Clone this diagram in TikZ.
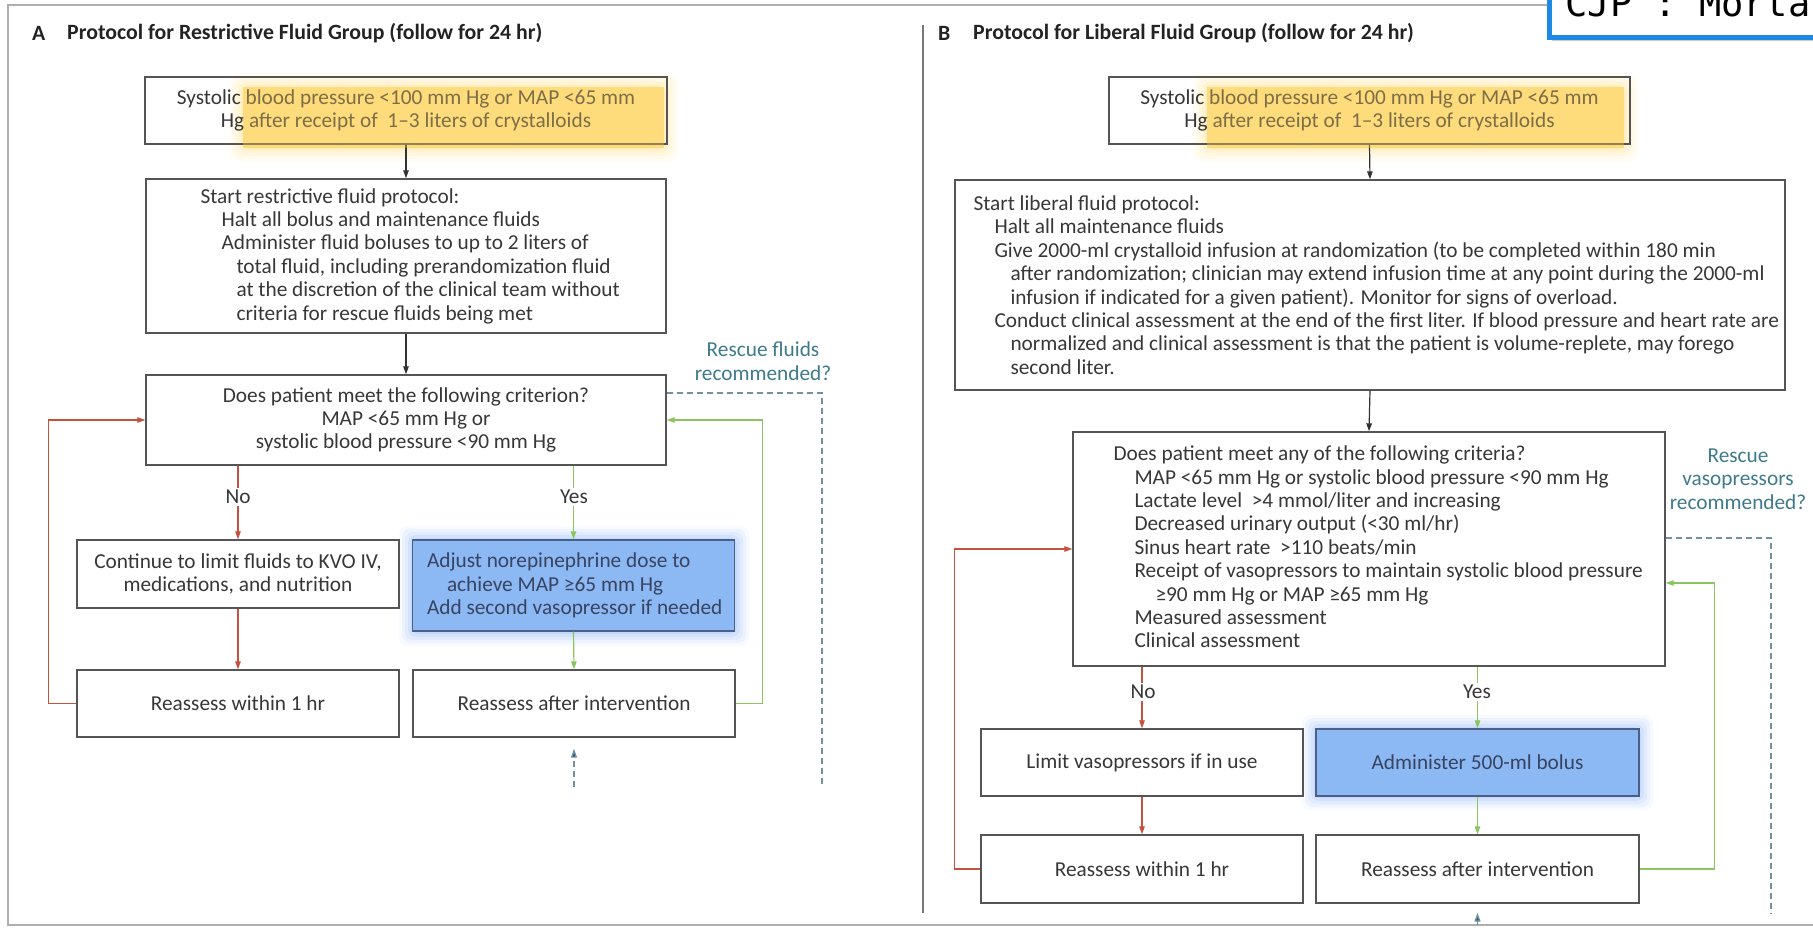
\documentclass[tikz,border=0pt]{standalone}
\usepackage{fontspec}
\setmainfont{Carlito}
\newfontfamily\cjpfont{DejaVu Sans Mono}
\usetikzlibrary{arrows.meta,calc,shadows}
\definecolor{boxline}{RGB}{85,85,85}
\definecolor{txt}{RGB}{55,55,55}
\definecolor{titlecol}{RGB}{35,35,35}
\definecolor{arrowcol}{RGB}{50,50,50}
\definecolor{redl}{RGB}{196,82,62}
\definecolor{greenl}{RGB}{140,196,96}
\definecolor{rescuecol}{RGB}{62,122,140}
\definecolor{dashcol}{RGB}{112,145,160}
\definecolor{tealdark}{RGB}{40,85,115}
\definecolor{yel}{RGB}{255,214,102}
\definecolor{bluefill}{RGB}{140,184,243}
\definecolor{blueglow}{RGB}{120,165,245}
\definecolor{blueline}{RGB}{75,95,135}
\definecolor{bluetxt}{RGB}{55,68,98}
\definecolor{cjpblue}{RGB}{30,136,229}
\definecolor{framecol}{RGB}{175,175,175}
\definecolor{divcol}{RGB}{120,120,120}
\begin{document}
\begin{tikzpicture}[x=1pt,y=-1pt,
  every node/.style={inner sep=0pt, text=txt},
  body/.style={font=\fontsize{21.3}{23.4}\selectfont},
  title/.style={font=\bfseries\fontsize{21.8}{24}\selectfont, text=titlecol},
  rect/.style={draw=boxline, line width=1.4pt, body, align=center},
  conn/.style={line width=1.2pt},
  blk/.style={conn, draw=arrowcol, -{Triangle[length=8pt,width=5.5pt]}},
  redc/.style={conn, draw=redl, -{Triangle[length=8pt,width=5.5pt]}},
  grnc/.style={conn, draw=greenl, -{Triangle[length=8pt,width=5.5pt]}},
  lbl/.style={body, fill=white, inner sep=2pt},
  resc/.style={body, text=rescuecol, align=center},
  dsh/.style={draw=dashcol, line width=1.3pt, dash pattern=on 6pt off 4pt},
  tarr/.style={draw=dashcol, line width=1.3pt, dash pattern=on 6pt off 4pt, -{Triangle[length=9pt,width=6pt,fill=tealdark]}},
]
\useasboundingbox (0,0) rectangle (1813,928);
% frame and divider
\draw[framecol, line width=1.5pt] (1830,5) -| (8,925) -- (1830,925);
\draw[divcol, line width=1.5pt] (923,25) -- (923,913);

% yellow glows (under)
\foreach \d/\o in {14/0.06,11/0.07,8/0.09,5/0.12,2/0.15}{
  \fill[yel, opacity=\o, rounded corners=9pt] (243-\d,87-\d) rectangle (664+\d,148+\d);
  \fill[yel, opacity=\o, rounded corners=9pt] (1207-\d,87-\d) rectangle (1624+\d,148+\d);
}
\fill[yel, opacity=0.65] (243,87) rectangle (664,148);
\fill[yel, opacity=0.65] (1207,87) rectangle (1624,148);
% blue glows
\foreach \d/\o in {14/0.06,11/0.08,8/0.1,5/0.13,2/0.16}{
  \fill[blueglow, opacity=\o, rounded corners=8pt] (413-\d,540-\d) rectangle (735+\d,632+\d);
  \fill[blueglow, opacity=\o, rounded corners=8pt] (1316-\d,729-\d) rectangle (1639+\d,796+\d);
}

% titles
\node[title, anchor=west] (tA) at (32,33) {A};
\node[title, anchor=west] (tAt) at (67,33) {Protocol for Restrictive Fluid Group (follow for 24 hr)};
\node[title, anchor=west] (tB) at (938,33) {B};
\node[title, anchor=west] (tBt) at (973,33) {Protocol for Liberal Fluid Group (follow for 24 hr)};

% ---------- Panel A ----------
\node[rect, minimum width=522pt, minimum height=67pt] (A1) at (406,110.5)
  {Systolic blood pressure <100 mm Hg or MAP <65 mm\\Hg after receipt of\ \ 1–3 liters of crystalloids};
\node[rect, minimum width=520pt, minimum height=154pt] (A2) at (406,256) {};
\node[body, anchor=west, align=left] (A2t) at ([xshift=55pt]A2.west)
  {Start restrictive fluid protocol:\\
   \hspace*{21pt}Halt all bolus and maintenance fluids\\
   \hspace*{21pt}Administer fluid boluses to up to 2 liters of\\
   \hspace*{36pt}total fluid, including prerandomization fluid\\
   \hspace*{36pt}at the discretion of the clinical team without\\
   \hspace*{36pt}criteria for rescue fluids being met};
\node[rect, minimum width=520pt, minimum height=90pt] (A3) at (406,420)
  {Does patient meet the following criterion?\\MAP <65 mm Hg or\\systolic blood pressure <90 mm Hg};
\node[rect, minimum width=322pt, minimum height=68pt] (Cont) at (238,574)
  {Continue to limit fluids to KVO IV,\\medications, and nutrition};
\node[rect, draw=blueline, fill=bluefill, minimum width=322pt, minimum height=91pt] (Adj) at (573.5,585.5) {};
\node[body, anchor=west, align=left, text=bluetxt] (Adjt) at ([xshift=15pt]Adj.west)
  {Adjust norepinephrine dose to\\\hspace*{20pt}achieve MAP ≥65 mm Hg\\Add second vasopressor if needed};
\node[rect, minimum width=322pt, minimum height=67pt] (RA1) at (238,703.5) {Reassess within 1 hr};
\node[rect, minimum width=322pt, minimum height=67pt] (RA2) at (574,703.5) {Reassess after intervention};
\node[resc] (rescA) at (763,361) {Rescue fluids\\recommended?};

\draw[blk] (A1.south) -- (A2.north);
\draw[blk] (A2.south) -- (A3.north);
\draw[redc] (A3.south -| Cont.north) -- (Cont.north);
\draw[grnc] (A3.south -| Adj.north) -- (Adj.north);
\node[lbl] (noA) at (238,497) {No};
\node[lbl] (yesA) at (574,497) {Yes};
\draw[redc] (Cont.south) -- (RA1.north);
\draw[grnc] (Adj.south) -- (RA2.north);
\draw[redc] (RA1.west) -- ++(-28,0) |- (A3.west);
\draw[grnc] (RA2.east) -- ++(27,0) |- (A3.east);
\coordinate (dA) at (822,787);
\coordinate (dA2) at (574,787);
\draw[dsh] ([yshift=27pt]A3.east) -| (dA);
\draw[tarr] (dA2) -- ([yshift=-11pt]RA2.south);

% ---------- Panel B ----------
\node[rect, minimum width=521pt, minimum height=67pt] (B1) at (1369.5,110.5)
  {Systolic blood pressure <100 mm Hg or MAP <65 mm\\Hg after receipt of\ \ 1–3 liters of crystalloids};
\node[rect, minimum width=830pt, minimum height=210pt] (B2) at (1370,285) {};
\node[body, anchor=west, align=left] (B2t) at ([xshift=19pt]B2.west)
  {Start liberal fluid protocol:\\
   \hspace*{21pt}Halt all maintenance fluids\\
   \hspace*{21pt}Give 2000-ml crystalloid infusion at randomization (to be completed within 180 min\\
   \hspace*{37pt}after randomization; clinician may extend infusion time at any point during the 2000-ml\\
   \hspace*{37pt}infusion if indicated for a given patient). Monitor for signs of overload.\\
   \hspace*{21pt}Conduct clinical assessment at the end of the first liter. If blood pressure and heart rate are\\
   \hspace*{37pt}normalized and clinical assessment is that the patient is volume-replete, may forego\\
   \hspace*{37pt}second liter.};
\node[rect, minimum width=592pt, minimum height=234pt] (B3) at (1369,549) {};
\node[body, anchor=west, align=left] (B3t) at ([xshift=41pt,yshift=2pt]B3.west)
  {Does patient meet any of the following criteria?\\
   \hspace*{21pt}MAP <65 mm Hg or systolic blood pressure <90 mm Hg\\
   \hspace*{21pt}Lactate level\ \ >4 mmol/liter and increasing\\
   \hspace*{21pt}Decreased urinary output (<30 ml/hr)\\
   \hspace*{21pt}Sinus heart rate\ \ >110 beats/min\\
   \hspace*{21pt}Receipt of vasopressors to maintain systolic blood pressure\\
   \hspace*{42pt}≥90 mm Hg or MAP ≥65 mm Hg\\
   \hspace*{21pt}Measured assessment\\
   \hspace*{21pt}Clinical assessment};
\node[rect, minimum width=322pt, minimum height=67pt] (Lim) at (1142,762.5) {Limit vasopressors if in use};
\node[rect, draw=blueline, fill=bluefill, text=bluetxt, minimum width=323pt, minimum height=67pt] (Adm) at (1477.5,762.5) {Administer 500-ml bolus};
\node[rect, minimum width=322pt, minimum height=68pt] (RB1) at (1142,869) {Reassess within 1 hr};
\node[rect, minimum width=323pt, minimum height=68pt] (RB2) at (1477.5,869) {Reassess after intervention};
\node[resc] (rescB) at (1738,479) {Rescue\\vasopressors\\recommended?};

\draw[blk] (B1.south) -- (B2.north);
\draw[blk] (B2.south) -- (B3.north);
\draw[redc] (B3.south -| Lim.north) -- (Lim.north);
\draw[grnc] (B3.south -| Adm.north) -- (Adm.north);
\node[lbl] (noB) at (1143,692) {No};
\node[lbl] (yesB) at (1477,692) {Yes};
\draw[redc] (Lim.south) -- (RB1.north);
\draw[grnc] (Adm.south) -- (RB2.north);
\draw[redc] (RB1.west) -- ++(-26,0) |- (B3.west);
\draw[grnc] (RB2.east) -- ++(75,0) |- ([yshift=-34pt]B3.east);
\coordinate (dB) at (1771,913);
\coordinate (dB2) at (1477.5,945);
\draw[dsh] ([yshift=11pt]B3.east) -| (dB);
\draw[tarr] (dB2) -- ([yshift=-9pt]RB2.south);

% yellow overlays (over text)
\fill[yel, opacity=0.35] (243,87) rectangle (664,148);
\fill[yel, opacity=0.35] (1207,87) rectangle (1624,148);

% CJP box
\node[draw=cjpblue, line width=5pt, fill=white, anchor=south west, inner xsep=16pt, inner ysep=20pt,
  font=\cjpfont\fontsize{37}{40}\selectfont, text=black,
  drop shadow={opacity=0.4, shadow xshift=2pt, shadow yshift=-4pt}] (cjp) at (1547,40) {CJP : Morta};
\end{tikzpicture}
\end{document}
